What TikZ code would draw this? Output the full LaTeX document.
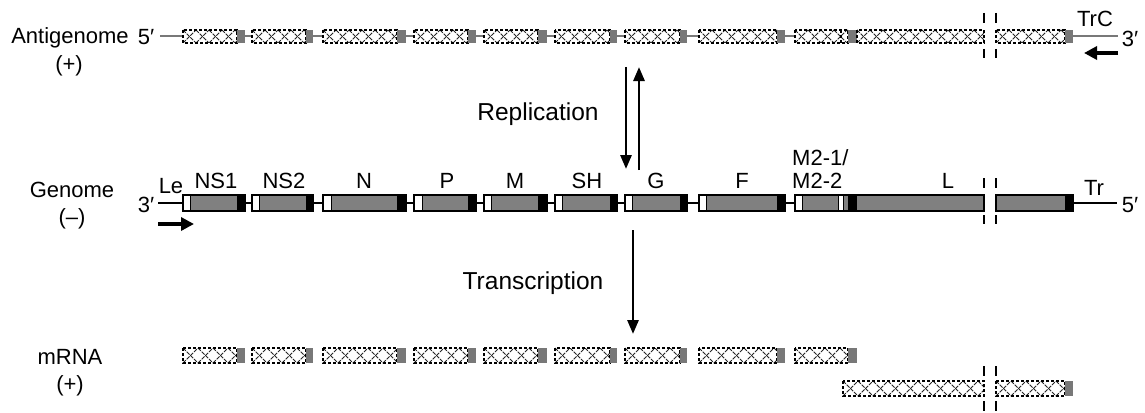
\documentclass[tikz,border=0pt]{standalone}
\usepackage{fontspec}
\setmainfont{Liberation Sans}
\usetikzlibrary{arrows.meta}
\definecolor{gfill}{RGB}{128,128,128}
\definecolor{agray}{RGB}{120,120,120}
\tikzset{
  lbl/.style={font=\fontsize{22}{26}\selectfont, inner sep=0pt, anchor=base},
  plbl/.style={font=\fontsize{24.5}{28}\selectfont, inner sep=0pt, anchor=center},
  hatchline/.style={line width=0.9pt, dash pattern=on 4pt off 1.2pt, black!85},
  hatchborder/.style={line width=1.2pt, dash pattern=on 3pt off 2pt, black},
  genebox/.style={line width=1.4pt, draw=black},
  strand/.style={line width=2pt, black},
  astrand/.style={line width=2pt, agray},
  breakline/.style={line width=2.4pt, black},
  bigarrow/.style={line width=4.5pt, -{Triangle[length=13pt,width=13pt]}},
  procarrow/.style={line width=2.8pt, -{Triangle[length=14pt,width=11pt]}},
}
\newcommand{\hatchbox}[4]{%
  \fill[white] (#1,#3) rectangle (#2,#4);
  \begin{scope}
    \clip (#1,#3) rectangle (#2,#4);
    \pgfmathsetmacro{\hbh}{#4-#3}
    \foreach \k in {0,...,11}{
      \pgfmathsetmacro{\hbx}{#1+\k*\hbh}
      \draw[hatchline] (\hbx,#3) -- ++(\hbh,\hbh);
      \draw[hatchline] (\hbx,#4) -- ++(\hbh,-\hbh);
    }
  \end{scope}
  \draw[hatchborder] (#1,#3) rectangle (#2,#4);
}
\begin{document}
\begin{tikzpicture}[x=1pt,y=-1pt]
\useasboundingbox[fill=white] (0,0) rectangle (1145,412);

% ---------------- left labels
\node[lbl] (lantig) at (70,44) {Antigenome};
\node[lbl] (lantigs) at (69,71) {(+)};
\node[lbl] (lgen) at (72,197) {Genome};
\node[lbl] (lgens) at (72,224) {(–)};
\node[lbl] (lmrna) at (70,364) {mRNA};
\node[lbl] (lmrnas) at (70,391) {(+)};

% ---------------- antigenome
\node[lbl] (a5) at (146,45) {5′};
\node[lbl] (a3) at (1130,47) {3′};
\node[lbl] (trc) at (1095,27) {TrC};
\draw[astrand] (160,36.5) -- (984,36.5);
\draw[astrand] (996,36.5) -- (1118,36.5);
\foreach \a/\c/\d in {183/237/245, 252/306/313, 323/397/406, 414/468/476,
                      484/538/547, 555/610/617, 625/680/687, 699/777/785}{
  \hatchbox{\a}{\c}{30}{43}
  \fill[agray] (\c,30) rectangle (\d,43);
}
\hatchbox{795}{848}{30}{43}
\draw[hatchborder] (841,30) -- (841,43);
\fill[agray] (848,30) rectangle (857,43);
\hatchbox{857}{984}{30}{43}
\hatchbox{996}{1065}{30}{43}
\fill[agray] (1065,30) rectangle (1073,43);
\draw[breakline] (984,13) -- (984,23) (996,13) -- (996,23);
\draw[breakline] (984,49) -- (984,58) (996,49) -- (996,58);
\coordinate (trcs) at (1118,53);
\coordinate (trce) at (1084,53);
\draw[bigarrow] (trcs) -- (trce);

% ---------------- genome
\node[lbl] (g3) at (146,212) {3′};
\node[lbl] (g5) at (1130,212) {5′};
\node[lbl] (le) at (171,193) {Le};
\node[lbl] (tr) at (1094,195) {Tr};
\node[lbl] (ns1) at (216,188) {NS1};
\node[lbl] (ns2) at (284,188) {NS2};
\node[lbl] (nn) at (364,188) {N};
\node[lbl] (pp) at (447,188) {P};
\node[lbl] (mm) at (515,188) {M};
\node[lbl] (sh) at (587,188) {SH};
\node[lbl] (gg) at (656,188) {G};
\node[lbl] (ff) at (742,188) {F};
\node[lbl,anchor=base west] (m21) at (792,165) {M2-1/};
\node[lbl,anchor=base west] (m22) at (792,188) {M2-2};
\node[lbl] (ll) at (948,188) {L};
\draw[strand] (158,203) -- (984,203);
\draw[strand] (996,203) -- (1117,203);
\foreach \a/\b/\c/\d in {183/190/237/245, 252/259/306/313, 323/331/397/406,
                         414/422/468/476, 484/491/538/547, 555/562/610/617,
                         625/632/680/687, 699/706/777/785}{
  \fill[white] (\a,195) rectangle (\b,211);
  \fill[gfill] (\b,195) rectangle (\c,211);
  \fill[black] (\c,195) rectangle (\d,211);
  \draw[genebox] (\a,195) rectangle (\d,211);
  \draw[line width=0.8pt] (\b,195) -- (\b,211);
}
% M2 + L
\fill[white] (795,195) rectangle (802,211);
\fill[gfill] (802,195) rectangle (838,211);
\fill[white] (838,195) rectangle (843,211);
\fill[gfill] (843,195) rectangle (848,211);
\fill[black] (848,195) rectangle (857,211);
\fill[gfill] (857,195) rectangle (984,211);
\draw[genebox] (795,195) rectangle (984,211);
\draw[line width=0.8pt] (802,195) -- (802,211) (838,195) -- (838,211) (843,195) -- (843,211);
\fill[gfill] (996,195) rectangle (1065,211);
\fill[black] (1065,195) rectangle (1073,211);
\draw[genebox] (996,195) rectangle (1073,211);
\draw[breakline] (984,178) -- (984,188) (996,178) -- (996,188);
\draw[breakline] (984,215) -- (984,224) (996,215) -- (996,224);
\coordinate (les) at (158,224);
\coordinate (lee) at (194,224);
\draw[bigarrow] (les) -- (lee);

% ---------------- process arrows
\coordinate (repdowns) at (626,67);
\coordinate (repdowne) at (626,169);
\coordinate (repups) at (639,170);
\coordinate (repupe) at (639,67);
\draw[procarrow] (repdowns) -- (repdowne);
\draw[procarrow] (repups) -- (repupe);
\node[plbl] (rep) at (538,114) {Replication};
\coordinate (trs) at (633,230);
\coordinate (tre) at (633,334);
\draw[procarrow] (trs) -- (tre);
\node[plbl] (trn) at (533,283) {Transcription};

% ---------------- mRNA
\foreach \a/\c/\d in {183/237/245, 252/306/313, 323/397/406, 414/468/476,
                      484/538/547, 555/610/617, 625/680/687, 699/777/785,
                      795/848/857}{
  \hatchbox{\a}{\c}{348}{363}
  \fill[agray] (\c,348) rectangle (\d,363);
}
\hatchbox{843}{984}{381}{396}
\hatchbox{996}{1065}{381}{396}
\fill[agray] (1065,381) rectangle (1073,396);
\draw[breakline] (984,366) -- (984,376) (996,366) -- (996,376);
\draw[breakline] (984,401) -- (984,411) (996,401) -- (996,411);
\end{tikzpicture}
\end{document}
